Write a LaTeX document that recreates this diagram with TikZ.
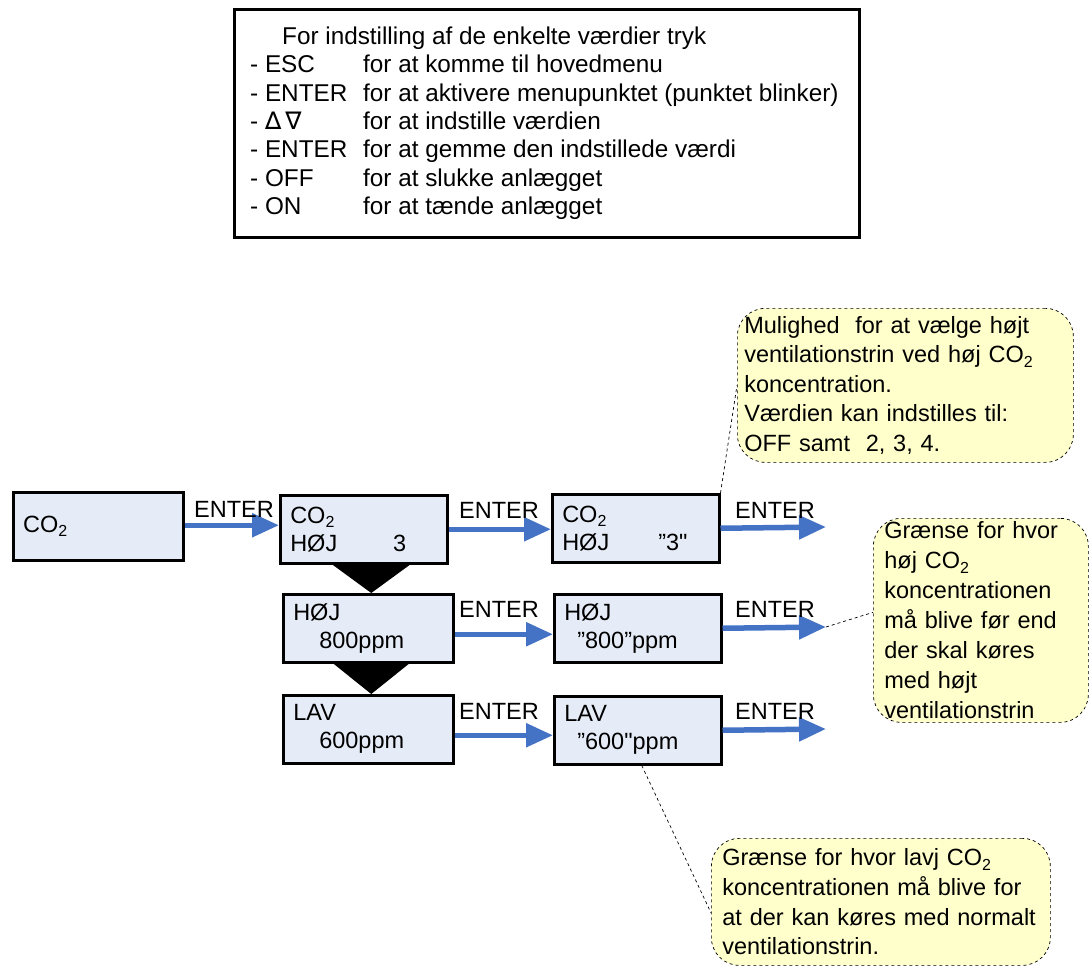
\documentclass[tikz,border=0pt]{standalone}
\usepackage{fontspec}
\usepackage{graphicx}
\setmainfont{Liberation Sans}[Ligatures=TeXOff]
\newfontfamily\symfont{DejaVu Sans}
\usetikzlibrary{arrows.meta}
\definecolor{boxfill}{RGB}{230,236,247}
\definecolor{notefill}{RGB}{255,255,204}
\definecolor{arrowblue}{RGB}{68,114,196}
\newcommand\cotwo{CO\raisebox{-0.2em}{\fontsize{16}{16}\selectfont 2}}
\begin{document}
\begin{tikzpicture}[x=1pt,y=-1pt,
  every node/.style={font=\fontsize{23.5}{28}\selectfont},
  menubox/.style={draw, line width=2.5pt, fill=boxfill, anchor=north west, align=left,
    inner xsep=10pt, inner ysep=0pt, minimum height=68pt, text width=147pt},
  note/.style={draw, dashed, line width=0.7pt, fill=notefill, rounded corners=28pt,
    anchor=north west, align=left, inner ysep=0pt},
  flow/.style={draw=arrowblue, line width=5.5pt, -{Triangle[length=27pt,width=23pt]}},
  lbl/.style={inner sep=0pt},
  pointer/.style={dashed, line width=0.7pt}
]
\useasboundingbox (0,0) rectangle (1090,967);

% instruction box
\node[draw, line width=2.5pt, anchor=north west, minimum width=625pt, minimum height=228pt,
  inner sep=0pt] (top) at (233,8) {};
\node[anchor=west, inner sep=0pt, align=left,
  font=\fontsize{24.3}{28.4}\selectfont] (toptext) at ([xshift=17pt]top.west) {%
\hspace*{32pt}For indstilling af de enkelte værdier tryk\\
\makebox[113pt][l]{- ESC}for at komme til hovedmenu\\
\makebox[113pt][l]{- ENTER}for at aktivere menupunktet (punktet blinker)\\
\makebox[113pt][l]{- {\symfont ∆\,∇}}for at indstille værdien\\
\makebox[113pt][l]{- ENTER}for at gemme den indstillede værdi\\
\makebox[113pt][l]{- OFF}for at slukke anlægget\\
\makebox[113pt][l]{- ON}for at tænde anlægget};

% menu boxes
\node[menubox, text width=150pt] (A) at (12,491) {\cotwo};
\node[menubox] (B) at (279,494) {\cotwo\\\makebox[103pt][l]{HØJ}3};
\node[menubox, text width=150pt] (C) at (282,593) {HØJ\\\hspace*{26pt}800ppm};
\node[menubox, text width=150pt] (D) at (282,694) {LAV\\\hspace*{26pt}600ppm};
\node[menubox] (B2) at (551,493) {\cotwo\\\makebox[96pt][l]{HØJ}”3"};
\node[menubox] (C2) at (553,593) {HØJ\\\hspace*{13pt}”800”ppm};
\node[menubox] (D2) at (553,695) {LAV\\\hspace*{13pt}”600"ppm};

% black flow triangles
\fill ([xshift=-36pt]C.north |- B.south) -- ([xshift=42pt]C.north |- B.south) -- ([xshift=3pt]C.north) -- cycle;
\fill ([xshift=-35pt]D.north |- C.south) -- ([xshift=41pt]D.north |- C.south) -- ([xshift=3pt]D.north) -- cycle;

% arrows
\coordinate (o1) at (826,527);
\coordinate (o2) at (826,627);
\coordinate (o3) at (826,729);
\draw[flow] ([yshift=1pt]A.east) -- ([yshift=1pt]A.east -| B.west);
\draw[flow] (B.east) -- (B.east -| B2.west);
\draw[flow] ([yshift=-6pt]C.east) -- ([yshift=-6pt]C.east -| C2.west);
\draw[flow] ([yshift=-6pt]D.east) -- ([yshift=-6pt]D.east -| D2.west);
\draw[flow] (B2.east) -- (o1);
\draw[flow] (C2.east) -- (o2);
\draw[flow] (D2.east) -- (o3);

% ENTER labels
\node[lbl] (e1) at (234,509) {ENTER};
\node[lbl] (e2) at (499,510) {ENTER};
\node[lbl] (e3) at (499,609) {ENTER};
\node[lbl] (e4) at (499,711) {ENTER};
\node[lbl] (e5) at (775,510) {ENTER};
\node[lbl] (e6) at (775,609) {ENTER};
\node[lbl] (e7) at (775,711) {ENTER};

% callouts
\node[note, text width=322pt, inner xsep=7pt, minimum height=154pt,
  font=\fontsize{23.5}{29.5}\selectfont] (n1) at (737,308)
  {Mulighed~ for at vælge højt\\ventilationstrin ved høj \cotwo\\koncentration.\\Værdien kan indstilles til:\\OFF samt~ 2, 3, 4.};
\node[note, text width=193pt, inner xsep=11pt, minimum height=204pt,
  font=\fontsize{23.5}{30}\selectfont] (n2) at (873,518)
  {Grænse for hvor\\høj \cotwo\\koncentrationen\\må blive før end\\der skal køres\\med højt\\ventilationstrin};
\node[note, text width=317pt, inner xsep=11pt, minimum height=127pt,
  font=\fontsize{23.5}{29.6}\selectfont] (n3) at (711,838)
  {Grænse for hvor lavj \cotwo\\koncentrationen må blive for\\at der kan køres med normalt\\ventilationstrin.};

% pointers
\draw[pointer] (B2.north east) -- (n1.west);
\draw[pointer] (o2) -- ([yshift=8pt]n2.west);
\draw[pointer] ([xshift=4pt]D2.south) -- ([yshift=-11pt]n3.west);
\end{tikzpicture}
\end{document}
